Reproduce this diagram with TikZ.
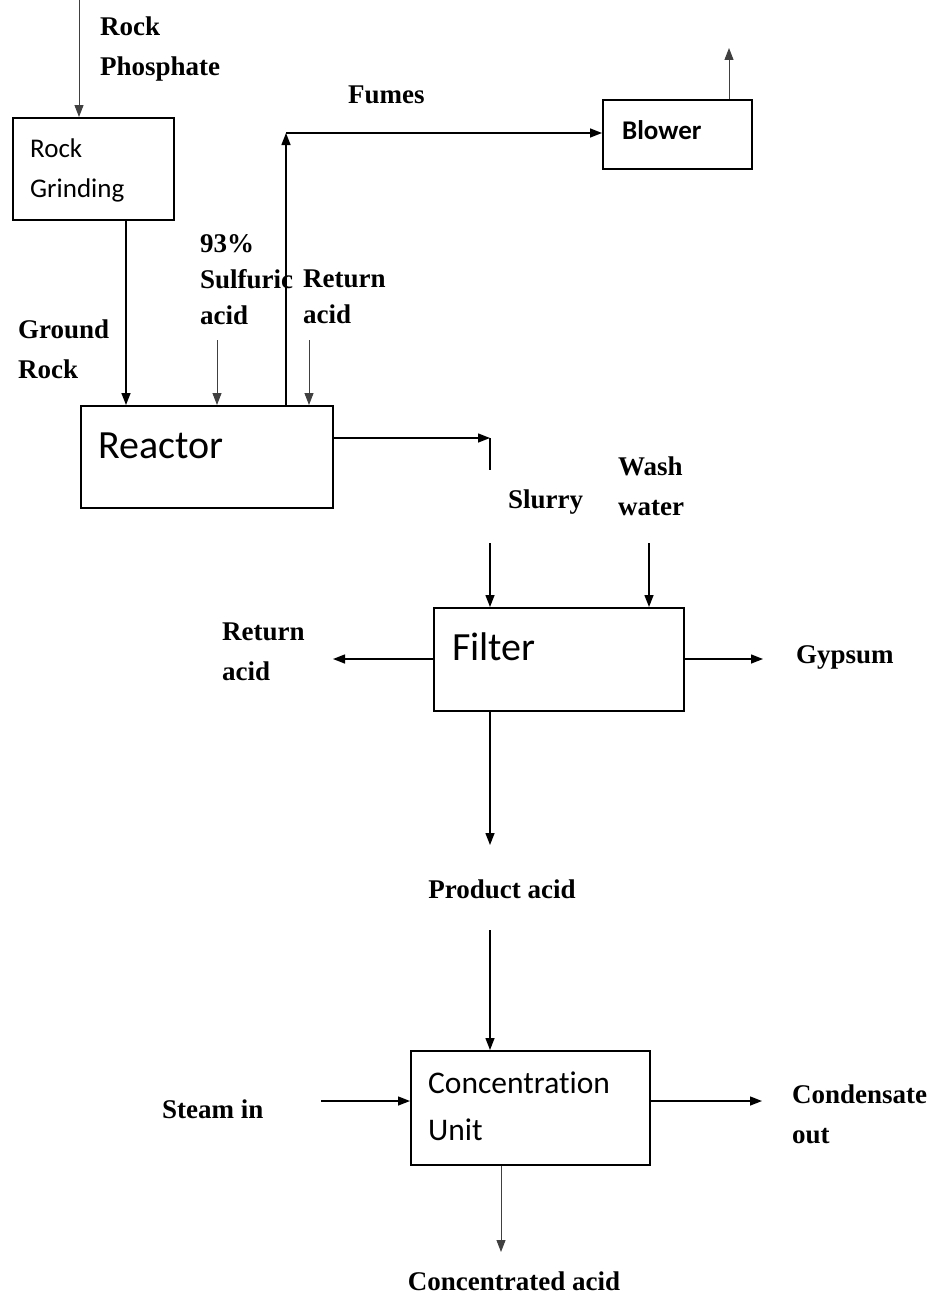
\documentclass[tikz,border=0pt]{standalone}
\usepackage{fontspec}
\setmainfont{Liberation Serif}
\newfontfamily\boxfont[Ligatures={NoCommon,NoRare,NoContextual}]{Carlito}
\usetikzlibrary{arrows.meta,calc}

\begin{document}
\begin{tikzpicture}[x=1pt,y=-1pt,
  box/.style={draw, line width=1.6pt, inner sep=0pt, anchor=north west},
  flow/.style={line width=1.4pt, -{Triangle[length=12pt,width=9pt]}},
  thinflow/.style={line width=1pt, draw=black!75, -{Triangle[length=12pt,width=9pt]}},
  lbl/.style={font=\fontsize{27}{27}\selectfont\bfseries, anchor=base west, inner sep=0pt},
  btxt/.style={font=\boxfont\fontsize{27}{27}\selectfont, anchor=base west, inner sep=0pt},
  bigtxt/.style={font=\boxfont\fontsize{40}{40}\selectfont, anchor=base west, inner sep=0pt}]
\useasboundingbox (0,0) rectangle (934,1298);

% process units
\node[box, minimum width=161pt, minimum height=102pt] (grind)   at (12,117)  {};
\node[box, minimum width=149pt, minimum height=69pt]  (blower)  at (602,99)  {};
\node[box, minimum width=252pt, minimum height=102pt] (reactor) at (80,405)  {};
\node[box, minimum width=250pt, minimum height=103pt] (filter)  at (433,607) {};
\node[box, minimum width=239pt, minimum height=114pt] (conc)    at (410,1050) {};

% text inside the units
\node[btxt] (t-grind1) at (30,157) {Rock};
\node[btxt] (t-grind2) at (30,197) {Grinding};
\node[btxt, font=\boxfont\bfseries\fontsize{27}{27}\selectfont] (t-blower) at (622,139) {Blower};
\node[bigtxt] (t-reactor) at (98,458) {Reactor};
\node[bigtxt] (t-filter) at (452,660) {Filter};
\node[btxt, font=\boxfont\fontsize{31.5}{31.5}\selectfont] (t-conc1) at (428,1093) {Concentration};
\node[btxt, font=\boxfont\fontsize{31.5}{31.5}\selectfont] (t-conc2) at (428,1140) {Unit};

% stream labels
\node[lbl] (l-rp1) at (100,36) {Rock};
\node[lbl] (l-rp2) at (100,75) {Phosphate};
\node[lbl] (l-fumes) at (348,103) {Fumes};
\node[lbl] (l-sa1) at (200,252) {93\%};
\node[lbl] (l-sa2) at (200,288) {Sulfuric};
\node[lbl] (l-sa3) at (200,324) {acid};
\node[lbl] (l-ra1) at (303,287) {Return};
\node[lbl] (l-ra2) at (303,323) {acid};
\node[lbl] (l-gr1) at (18,338) {Ground};
\node[lbl] (l-gr2) at (18,378) {Rock};
\node[lbl] (l-slurry) at (508,508) {Slurry};
\node[lbl] (l-ww1) at (618,475) {Wash};
\node[lbl] (l-ww2) at (618,515) {water};
\node[lbl] (l-rb1) at (222,640) {Return};
\node[lbl] (l-rb2) at (222,680) {acid};
\node[lbl] (l-gyp) at (796,663) {Gypsum};
\node[lbl, anchor=base] (l-prod) at (502,898) {Product acid};
\node[lbl] (l-steam) at (162,1118) {Steam in};
\node[lbl] (l-cond1) at (792,1103) {Condensate};
\node[lbl] (l-cond2) at (792,1143) {out};
\node[lbl, anchor=base] (l-conc) at (514,1290) {Concentrated acid};

% connector end points
\coordinate (rp-top) at (79,0);
\coordinate (gr-x) at (126,0);
\coordinate (sa-top) at (217,340);
\coordinate (ra-top) at (309,340);
\coordinate (fume-x) at (286,133);
\coordinate (exh) at (729,48);
\coordinate (sl-turn) at (490,438);
\coordinate (sl-end) at (490,470);
\coordinate (sl-in) at (490,543);
\coordinate (ww-in) at (649,543);
\coordinate (rb-end) at (333,659);
\coordinate (gyp-end) at (763,659);
\coordinate (prod-end) at (490,845);
\coordinate (prod-in) at (490,930);
\coordinate (steam) at (321,1101);
\coordinate (cond) at (762,1101);
\coordinate (ca-x) at (501,0);
\coordinate (ca-end) at (501,1252);

% connectors
\draw[thinflow] (rp-top) -- (rp-top |- grind.north);
\draw[flow] (grind.south -| gr-x) -- (reactor.north -| gr-x);
\draw[thinflow] (sa-top) -- (sa-top |- reactor.north);
\draw[thinflow] (ra-top) -- (ra-top |- reactor.north);
\draw[flow] (reactor.north -| fume-x) -- (fume-x);
\draw[flow] (fume-x) -- (fume-x -| blower.west);
\draw[thinflow] (blower.north -| exh) -- (exh);
\draw[flow] (sl-turn -| reactor.east) -- (sl-turn);
\draw[line width=1.4pt] (sl-turn) -- (sl-end);
\draw[flow] (sl-in) -- (sl-in |- filter.north);
\draw[flow] (ww-in) -- (ww-in |- filter.north);
\draw[flow] (rb-end -| filter.west) -- (rb-end);
\draw[flow] (gyp-end -| filter.east) -- (gyp-end);
\draw[flow] (sl-in |- filter.south) -- (prod-end);
\draw[flow] (prod-in) -- (prod-in |- conc.north);
\draw[flow] (steam) -- (steam -| conc.west);
\draw[flow] (cond -| conc.east) -- (cond);
\draw[thinflow] (ca-x |- conc.south) -- (ca-end);
\end{tikzpicture}
\end{document}
